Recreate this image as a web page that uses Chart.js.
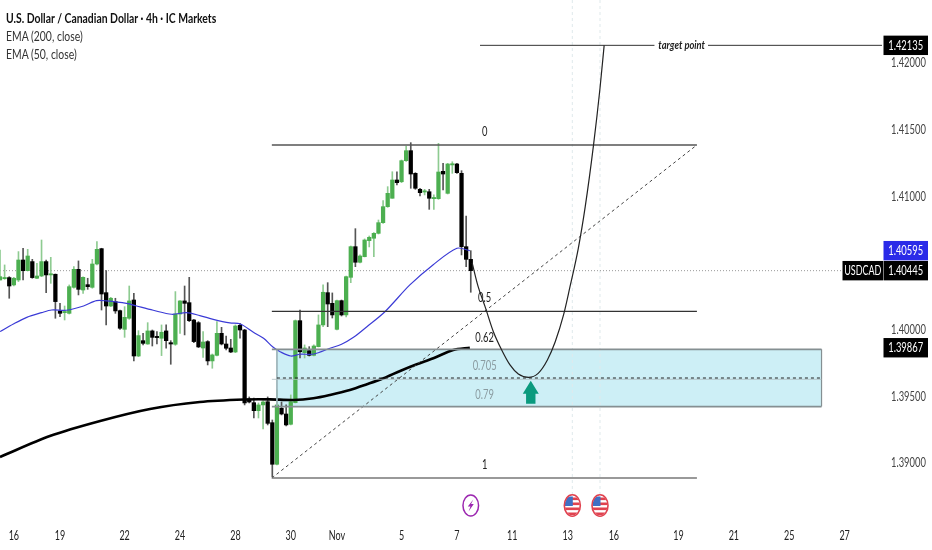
<!DOCTYPE html>
<html>
<head>
<meta charset="utf-8">
<title>USDCAD 4h</title>
<script src="https://cdn.jsdelivr.net/npm/chart.js@4/dist/chart.umd.min.js"></script>
<style>
  body { margin: 0; background: #fff; }
  #wrap { position: relative; width: 932px; height: 550px; overflow: hidden; }
  #chart { display: block; }
  .legend { position: absolute; left: 6px; font: 13px Lato, sans-serif; color: #333; line-height: 18px; white-space: nowrap; transform: scaleX(0.8); transform-origin: left center; }
  .legend.main { font-weight: bold; color: #111; }
</style>
</head>
<body>
<div id="wrap">
  <canvas id="chart" width="932" height="550"></canvas>
  <div class="legend main" style="top:9px">U.S. Dollar / Canadian Dollar · 4h · IC Markets</div>
  <div class="legend" style="top:27px">EMA (200, close)</div>
  <div class="legend" style="top:45px">EMA (50, close)</div>
</div>
<script>
// 4h candles, one entry per bar
const opens = [1.40375,1.40385,1.40393,1.40338,1.40375,1.40525,1.40445,1.40513,1.40388,1.40405,
  1.40513,1.40413,1.40418,1.40143,1.40130,1.40125,1.40320,1.40455,1.40300,1.40340,
  1.40320,1.40495,1.40610,1.40280,1.40180,1.40213,1.40145,1.40005,1.40088,1.40225,
  1.39805,1.39920,1.39895,1.39993,1.39950,1.39938,1.39993,1.39905,1.39893,1.40120,
  1.40218,1.40205,1.40075,1.40055,1.39865,1.39913,1.39768,1.39810,1.39975,1.39895,
  1.39865,1.39835,1.40035,1.40000,1.39483,1.39455,1.39395,1.39438,1.39462,1.39305,
  1.38993,1.39413,1.39370,1.39293,1.39455,1.40070,1.39830,1.39845,1.39810,1.39875,
  1.40038,1.40280,1.40200,1.40005,1.40220,1.40113,1.40395,1.40625,1.40508,1.40550,
  1.40670,1.40688,1.40725,1.40805,1.40925,1.40988,1.41125,1.41112,1.41270,1.41345,
  1.41175,1.41055,1.41035,1.41037,1.40985,1.40985,1.41190,1.41025,1.41238,1.41245,
  1.41175,1.40625,1.40530];
const highs = [1.40600,1.40488,1.40400,1.40395,1.40588,1.40613,1.40605,1.40530,1.40500,1.40675,
  1.40525,1.40545,1.40420,1.40200,1.40180,1.40338,1.40475,1.40518,1.40398,1.40388,
  1.40530,1.40663,1.40613,1.40445,1.40245,1.40238,1.40150,1.40175,1.40330,1.40275,
  1.39995,1.39975,1.40055,1.40000,1.39988,1.40038,1.40038,1.39920,1.40288,1.40220,
  1.40330,1.40395,1.40080,1.40063,1.39988,1.39920,1.39820,1.40063,1.40020,1.39955,
  1.39930,1.40038,1.40050,1.40005,1.39498,1.39490,1.39453,1.39468,1.39498,1.39325,
  1.39550,1.39460,1.39438,1.39513,1.40075,1.40150,1.39888,1.39875,1.39888,1.40113,
  1.40338,1.40355,1.40278,1.40225,1.40225,1.40405,1.40630,1.40760,1.40563,1.40683,
  1.40705,1.40730,1.40825,1.40970,1.41075,1.41187,1.41187,1.41275,1.41380,1.41405,
  1.41180,1.41063,1.41055,1.41055,1.41013,1.41400,1.41250,1.41250,1.41262,1.41250,
  1.41195,1.40855,1.40595];
const lows = [1.40375,1.40380,1.40238,1.40330,1.40363,1.40375,1.40443,1.40388,1.40385,1.40400,
  1.40280,1.40350,1.40088,1.40100,1.40075,1.40120,1.40313,1.40263,1.40275,1.40305,
  1.40313,1.40488,1.40150,1.40038,1.40175,1.40125,1.40005,1.39945,1.40080,1.39768,
  1.39800,1.39888,1.39893,1.39880,1.39895,1.39808,1.39863,1.39743,1.39885,1.39975,
  1.39963,1.40063,1.39905,1.39868,1.39795,1.39738,1.39713,1.39805,1.39888,1.39850,
  1.39830,1.39830,1.39938,1.39438,1.39453,1.39340,1.39340,1.39258,1.39288,1.38898,
  1.38988,1.39363,1.39280,1.39288,1.39453,1.39790,1.39790,1.39805,1.39805,1.39873,
  1.40025,1.40025,1.40090,1.40000,1.40105,1.40098,1.40355,1.40475,1.40503,1.40548,
  1.40623,1.40550,1.40720,1.40800,1.40920,1.40988,1.41088,1.41105,1.41265,1.41063,
  1.41055,1.41005,1.41013,1.40905,1.40905,1.40980,1.41050,1.41020,1.41175,1.41175,
  1.40563,1.40475,1.40283];
const closes = [1.40400,1.40393,1.40330,1.40388,1.40525,1.40445,1.40555,1.40393,1.40405,1.40513,
  1.40413,1.40420,1.40213,1.40125,1.40138,1.40325,1.40455,1.40305,1.40395,1.40325,
  1.40495,1.40605,1.40270,1.40180,1.40238,1.40143,1.40013,1.40095,1.40218,1.39805,
  1.39958,1.39900,1.39993,1.39945,1.39943,1.39983,1.39920,1.39895,1.40120,1.40218,
  1.40200,1.40070,1.39913,1.39873,1.39910,1.39768,1.39813,1.39975,1.39895,1.39863,
  1.39835,1.40030,1.40000,1.39453,1.39460,1.39395,1.39438,1.39460,1.39300,1.38993,
  1.39438,1.39370,1.39288,1.39462,1.40070,1.39837,1.39865,1.39810,1.39880,1.40038,
  1.40283,1.40195,1.40113,1.40220,1.40113,1.40400,1.40625,1.40508,1.40555,1.40675,
  1.40695,1.40725,1.40805,1.40925,1.41025,1.41125,1.41105,1.41270,1.41345,1.41170,
  1.41063,1.41030,1.41043,1.40988,1.40992,1.41185,1.41170,1.41245,1.41245,1.41180,
  1.40625,1.40530,1.40445];

const ema50Bars = [0,2.9,5.8,9,11.2,14.4,18.1,20.9,23.1,27.4,29.6,33.2,37.2,40.4,43.3,46.2,49.8,52.1,54.9,57.1,59.2,60.7,63,65,68,71.5,74,76.6,79.5,83.4,88.8,93.8,99,101.8];
const ema50Values = [1.39988,1.40045,1.40095,1.40130,1.40150,1.40148,1.40180,1.40220,1.40218,1.40200,1.40180,1.40148,1.40118,1.40130,1.40108,1.40080,1.40053,1.40045,1.39983,1.39938,1.39870,1.39837,1.39805,1.39818,1.39820,1.39863,1.39893,1.39945,1.40025,1.40137,1.40338,1.40488,1.40613,1.40595];
const ema200Bars = [0,10.8,21.7,32.5,43.3,53.1,58.5,63.6,67.9,71.5,75.8,79.5,83.1,86.7,90.3,93.9,98.2,101.8];
const ema200Values = [1.39048,1.39205,1.39318,1.39408,1.39460,1.39479,1.39480,1.39475,1.39488,1.39513,1.39550,1.39593,1.39638,1.39693,1.39743,1.39788,1.39850,1.39867];

// projected path drawn on the chart
const pathBars = [102.3,103.6,105.1,106.9,108.7,110.5,112.3,114.5,116.6,118.6,120.3,122.1,123.5,125.3,126.8,128.6,130,130.9];
const pathValues = [1.40503,1.40325,1.40175,1.39987,1.39850,1.39738,1.39670,1.39645,1.39675,1.39775,1.39912,1.40113,1.40325,1.40613,1.40925,1.41388,1.41813,1.42135];

// fib tool
const fibLabels = ['0','0.5','0.62','0.705','0.79','1'];
const fibLabelValues = [1.41485,1.40240,1.39940,1.39730,1.39513,1.38988];
const fibLevels = [1.41388,1.40139,1.39855,1.39640,1.39426,1.38890];
const fibStart = 58.9, fibEnd = 151, zoneStart = 60, zoneEnd = 178;
const labelBar = 105;

// axes and right hand tags
const xTickBars = [3,13,27,39,51,63,73,87,99,111,123,133,147,159,171,183];
const xTickLabels = ['16','19','22','24','28','30','Nov','5','7','11','13','16','19','21','25','27'];
const yTicks = [1.39,1.395,1.4,1.41,1.415,1.42];
const targetPrice = 1.42135, ema50Last = 1.40595, lastClose = 1.40445, ema200Last = 1.39867;
const targetEnds = [[104,141.8],[153.4,191.2]];
const targetLabelBar = 147.7;
const eventBars = [102,124,130];
const arrowBar = 115, arrowPrice = 1.39620;

const yMin = 1.38605, yMax = 1.42475, xMax = 191.1;
const up = '#4caf50', down = '#000';

function seg(x1, y1, x2, y2, color, width, dash, order) {
  return { type: 'line', data: [{x: x1, y: y1}, {x: x2, y: y2}], borderColor: color, borderWidth: width,
    borderDash: dash || [], pointRadius: 0, order: order || 2 };
}

// the reference uses a condensed face, none is installed so squeeze Lato
function narrowText(ctx, text, x, y, font, color, sx, align) {
  ctx.save();
  ctx.font = font;
  ctx.fillStyle = color;
  ctx.textAlign = align || 'center';
  ctx.textBaseline = 'middle';
  ctx.translate(x, y);
  ctx.scale(sx, 1);
  ctx.fillText(text, 0, 0);
  ctx.restore();
}

const overlays = {
  id: 'overlays',
  afterDatasetsDraw(chart) {
    const { ctx, scales: { x, y } } = chart;
    const font = '12.5px Lato, sans-serif';
    fibLabels.forEach((t, i) => {
      narrowText(ctx, t, x.getPixelForValue(labelBar), y.getPixelForValue(fibLabelValues[i]), font,
        (i === 3 || i === 4) ? '#8a9ba0' : '#222', 0.75);
    });
    narrowText(ctx, 'target point', x.getPixelForValue(targetLabelBar), y.getPixelForValue(targetPrice),
      'italic bold 11px Lato, sans-serif', '#222', 0.85);

    // arrow under the curve
    const ax = x.getPixelForValue(arrowBar), ay = y.getPixelForValue(arrowPrice);
    ctx.save();
    ctx.fillStyle = '#0a9a7e';
    ctx.beginPath();
    ctx.moveTo(ax, ay);
    ctx.lineTo(ax + 8, ay + 13);
    ctx.lineTo(ax + 4.7, ay + 13);
    ctx.lineTo(ax + 4.7, ay + 23);
    ctx.lineTo(ax - 4.7, ay + 23);
    ctx.lineTo(ax - 4.7, ay + 13);
    ctx.lineTo(ax - 8, ay + 13);
    ctx.closePath();
    ctx.fill();
    ctx.restore();

    // event markers
    eventBars.forEach((b, i) => {
      const cx = x.getPixelForValue(b), cy = chart.chartArea.bottom - 10.5;
      if (i === 0) drawBolt(ctx, cx, cy); else drawFlag(ctx, cx, cy);
    });
  },
  afterDraw(chart) {
    const { ctx, chartArea, scales: { x, y } } = chart;
    const font = '12.5px Lato, sans-serif';

    // axis labels, from the ticks the scales built
    y.ticks.forEach(t => narrowText(ctx, t.label, chartArea.right + 9, y.getPixelForValue(t.value), font, '#444', 0.75, 'left'));
    x.ticks.forEach(t => narrowText(ctx, t.label, x.getPixelForValue(t.value), chartArea.bottom + 20, font, '#222', 0.72));

    // price tags
    const left = chartArea.right + 1.5;
    [[targetPrice, '#000'], [ema50Last, '#2a2ae8'], [lastClose, '#000'], [ema200Last, '#000']].forEach(([p, c]) => {
      const py = y.getPixelForValue(p);
      ctx.fillStyle = c;
      ctx.fillRect(left, py - 9.7, 44.5, 19.4);
      narrowText(ctx, p.toFixed(5), left + 22.2, py + 0.5, font, '#fff', 0.75);
    });
    const ty = y.getPixelForValue(lastClose);
    ctx.fillStyle = '#000';
    ctx.fillRect(left - 41, ty - 9.7, 40.5, 19.4);
    narrowText(ctx, 'USDCAD', left - 20.7, ty + 0.5, font, '#fff', 0.72);
  }
};

function drawBolt(ctx, cx, cy) {
  ctx.save();
  ctx.strokeStyle = '#9c27b0';
  ctx.lineWidth = 1.5;
  ctx.beginPath();
  ctx.ellipse(cx, cy, 7.8, 10.5, 0, 0, Math.PI * 2);
  ctx.stroke();
  ctx.fillStyle = '#9c27b0';
  ctx.beginPath();
  ctx.moveTo(cx + 2.5, cy - 6);
  ctx.lineTo(cx - 3, cy + 1);
  ctx.lineTo(cx - 0.3, cy + 1);
  ctx.lineTo(cx - 2.2, cy + 6);
  ctx.lineTo(cx + 3, cy - 1.5);
  ctx.lineTo(cx + 0.3, cy - 1.5);
  ctx.closePath();
  ctx.fill();
  ctx.restore();
}

function drawFlag(ctx, cx, cy) {
  ctx.save();
  ctx.beginPath();
  ctx.ellipse(cx, cy, 7.5, 10, 0, 0, Math.PI * 2);
  ctx.fillStyle = '#fff';
  ctx.fill();
  ctx.clip();
  ctx.fillStyle = '#e0424f';
  [-8, -3, 2, 7].forEach(dy => ctx.fillRect(cx - 8, cy + dy, 16, 2.6));
  ctx.fillStyle = '#3f6fc4';
  ctx.fillRect(cx - 8, cy - 9, 8.5, 9.5);
  ctx.restore();
  ctx.save();
  ctx.strokeStyle = '#e0424f';
  ctx.lineWidth = 1.6;
  ctx.beginPath();
  ctx.ellipse(cx, cy, 8, 10.8, 0, 0, Math.PI * 2);
  ctx.stroke();
  ctx.restore();
}

const bars = closes.map((_, i) => i);
const wicks = bars.map(i => ({ x: i, y: [lows[i], highs[i]] }));
const bodies = bars.map(i => ({ x: i, y: [Math.min(opens[i], closes[i]), Math.max(opens[i], closes[i])] }));
const isUp = i => closes[i] >= opens[i];

const datasets = [
  // demand zone
  { type: 'line', data: [{x: zoneStart, y: fibLevels[2]}, {x: zoneEnd, y: fibLevels[2]}],
    borderWidth: 0, pointRadius: 0, fill: { value: fibLevels[4] }, backgroundColor: '#cdeff6', order: 10 },
  // event lines
  ...eventBars.slice(1).map(b => seg(b, yMax, b, 1.3877, '#dfe9ec', 1, [3, 3], 9)),
  // price line
  seg(0, lastClose, xMax, lastClose, '#9a9a9a', 1, [1, 2], 8),
  // wicks and bodies
  { type: 'bar', data: wicks, barThickness: 1, grouped: false, order: 6,
    backgroundColor: bars.map(i => isUp(i) ? '#8ecb91' : '#555') },
  { type: 'bar', data: bodies, barThickness: 3.6, grouped: false, minBarLength: 1.2, order: 5,
    backgroundColor: bars.map(i => isUp(i) ? up : down) },
  // EMAs
  { type: 'line', data: ema50Bars.map((b, i) => ({x: b, y: ema50Values[i]})), borderColor: '#3b3bd6', borderWidth: 1.2,
    pointRadius: 0, tension: 0.3, order: 4 },
  { type: 'line', data: ema200Bars.map((b, i) => ({x: b, y: ema200Values[i]})), borderColor: '#000', borderWidth: 2.6,
    pointRadius: 0, tension: 0.3, order: 3 },
  // fib levels
  seg(fibStart, fibLevels[0], fibEnd, fibLevels[0], '#555', 1.4),
  seg(fibStart, fibLevels[1], fibEnd, fibLevels[1], '#333', 1.2),
  seg(fibStart, fibLevels[2], zoneEnd, fibLevels[2], '#858f92', 1.8),
  seg(zoneStart, fibLevels[3], zoneEnd, fibLevels[3], '#222', 1, [3, 3]),
  seg(fibStart, fibLevels[3] - 0.0001, zoneEnd, fibLevels[3] - 0.0001, '#aebcc0', 0.8),
  seg(fibStart, fibLevels[4], zoneEnd, fibLevels[4], '#858f92', 1.8),
  seg(zoneEnd, fibLevels[2], zoneEnd, fibLevels[4], '#858f92', 1.2),
  seg(zoneStart, fibLevels[2], zoneStart, fibLevels[4], '#9fb4ba', 1),
  seg(fibStart, fibLevels[5], fibEnd, fibLevels[5], '#777', 1.6),
  seg(fibStart, fibLevels[5], fibEnd, fibLevels[0], '#444', 1, [3, 3]),
  // target line and path
  ...targetEnds.map(e => seg(e[0], targetPrice, e[1], targetPrice, '#333', 1)),
  { type: 'line', data: pathBars.map((b, i) => ({x: b, y: pathValues[i]})), borderColor: '#222', borderWidth: 1.2,
    pointRadius: 0, cubicInterpolationMode: 'monotone', order: 1 }
];

// no room reserved for the outer tick labels, the plot runs to the canvas edge
function noPadding(axis) {
  axis.paddingLeft = axis.paddingRight = axis.paddingTop = axis.paddingBottom = 0;
}

new Chart(document.getElementById('chart'), {
  type: 'bar',
  data: { datasets },
  plugins: [overlays],
  options: {
    responsive: false,
    animation: false,
    layout: { padding: 0 },
    plugins: { legend: { display: false }, tooltip: { enabled: false } },
    scales: {
      x: {
        type: 'linear', min: 0, max: xMax, offset: false,
        grid: { display: false }, border: { display: false },
        afterBuildTicks(axis) { axis.ticks = xTickBars.map(v => ({ value: v })); },
        afterFit(axis) { axis.height = 34; noPadding(axis); },
        ticks: { display: false, autoSkip: false, callback: v => xTickLabels[xTickBars.indexOf(v)] }
      },
      y: {
        position: 'right', min: yMin, max: yMax,
        grid: { display: false }, border: { display: false },
        afterBuildTicks(axis) { axis.ticks = yTicks.map(v => ({ value: v })); },
        afterFit(axis) { axis.width = 50; noPadding(axis); },
        ticks: { display: false, callback: v => v.toFixed(5) }
      }
    }
  }
});
</script>
</body>
</html>
